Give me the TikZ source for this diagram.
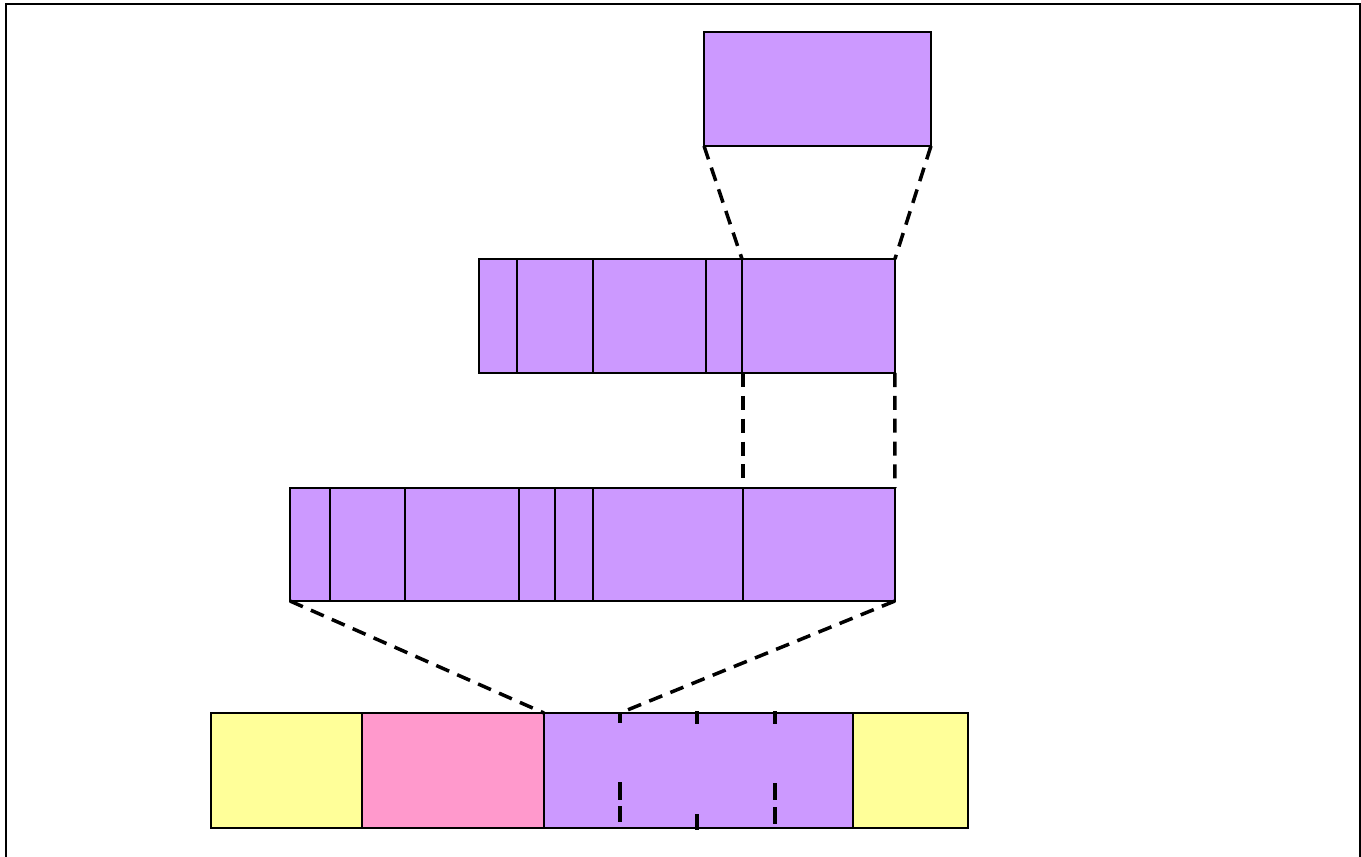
\documentclass[tikz,border=0pt]{standalone}
\definecolor{barpurple}{HTML}{CC99FF}
\definecolor{baryellow}{HTML}{FFFF99}
\definecolor{barpink}{HTML}{FF99CC}
\tikzset{
  cell/.style={draw=black,line width=0.8pt,inner sep=0pt,outer sep=0pt,anchor=north west},
  zoomline/.style={line width=2pt,dash pattern=on 8pt off 5pt},
  tick/.style={line width=2pt}
}
\begin{document}
\begin{tikzpicture}[x=0.02cm,y=-0.02cm]
\useasboundingbox (0,0) rectangle (1361,856);
\draw[line width=1.1pt] (6,4) rectangle (1360,880);
% top block
\node[cell,fill=barpurple,minimum width=4.54cm,minimum height=2.28cm] (top) at (704,32) {};
% second row
\node[cell,fill=barpurple,minimum width=8.32cm,minimum height=2.28cm] (rowb) at (479,259) {};
\foreach \x in {517,593,706,742} \draw[line width=0.8pt] (\x,259) -- (\x,373);
% third row
\node[cell,fill=barpurple,minimum width=12.1cm,minimum height=2.26cm] (rowc) at (290,488) {};
\foreach \x in {330,405,519,555,593,743} \draw[line width=0.8pt] (\x,488) -- (\x,601);
% bottom row
\node[cell,fill=baryellow,minimum width=3.02cm,minimum height=2.3cm] (ya) at (211,713) {};
\node[cell,fill=barpink,minimum width=3.64cm,minimum height=2.3cm] (pk) at (362,713) {};
\node[cell,fill=barpurple,minimum width=6.18cm,minimum height=2.3cm] (pu) at (544,713) {};
\node[cell,fill=baryellow,minimum width=2.3cm,minimum height=2.3cm] (yb) at (853,713) {};
% anchor points of the zoom lines
\coordinate (b1) at (742,259);
\coordinate (c1) at (743,488);
\coordinate (b2) at (743,373);
\coordinate (d1) at (620,713);
\draw[zoomline] (top.south west) -- (b1);
\draw[zoomline] (top.south east) -- (rowb.north east);
\draw[zoomline] (b2) -- (c1);
\draw[zoomline] (rowb.south east) -- (rowc.north east);
\draw[zoomline] (rowc.south west) -- (pu.north west);
\draw[zoomline] (rowc.south east) -- (d1);
% marks inside the purple cell
\draw[tick] (620,712) -- (620,723) (620,782) -- (620,800) (620,806) -- (620,822);
\draw[tick] (697,711) -- (697,724) (697,814) -- (697,830);
\draw[tick] (775,711) -- (775,724) (775,783) -- (775,800) (775,807) -- (775,824);
\end{tikzpicture}
\end{document}
